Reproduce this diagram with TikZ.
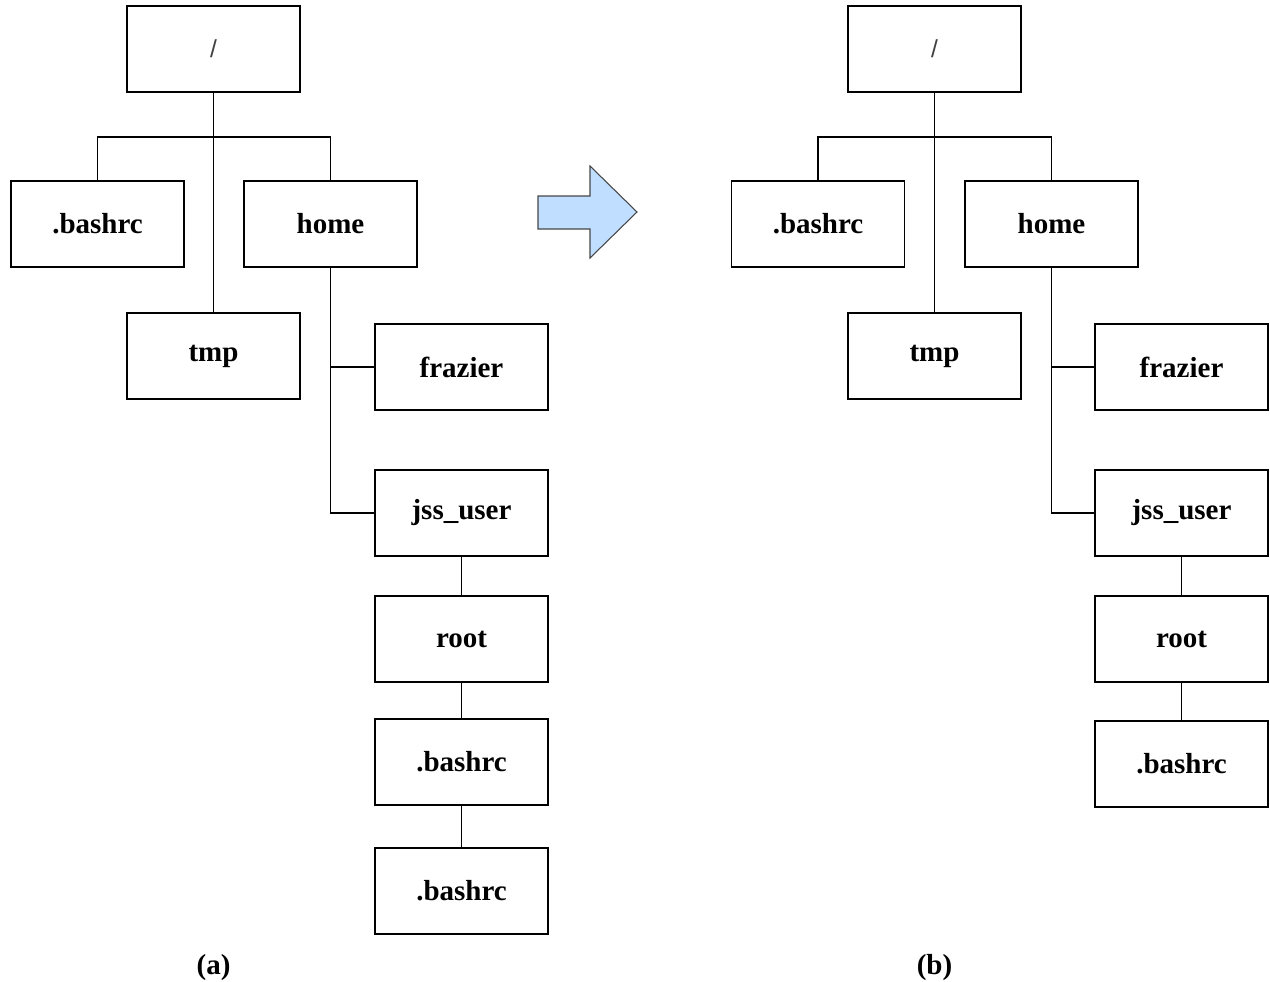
\documentclass[tikz,border=0pt]{standalone}
\usepackage{fontspec}
\setmainfont{Liberation Serif}
\newfontfamily\slashfont{Liberation Sans}
\usetikzlibrary{positioning}
\definecolor{arrowblue}{RGB}{192,222,255}
\definecolor{arrowedge}{RGB}{70,70,70}

\begin{document}
\begin{tikzpicture}[x=0.02cm, y=-0.02cm,
      dirbox/.style={draw, line width=0.9pt, minimum width=3.46cm, minimum height=1.72cm, inner sep=0pt, font=\fontsize{16.5}{18}\selectfont\bfseries},
      link/.style={line width=0.9pt},
      caption/.style={font=\fontsize{16.5}{18}\selectfont\bfseries}
    ]
      \useasboundingbox (0,0) rectangle (1270,981);

      % Tree (a): before
      \node[dirbox, font=\fontsize{14}{16}\selectfont\slashfont\color{black!75}] (slashA) at (213.5, 49) {/};
      \node[dirbox] (bashA) at (97.5, 224) {.bashrc};
      \node[dirbox] (homeA) at (330.5, 224) {home};
      \node[dirbox] (tmpA) at (213.5, 356) {tmp};
      \node[dirbox] (frazierA) at (461.5, 367) {frazier};
      \node[dirbox] (jssA) at (461.5, 513) {jss\_user};
      \node[dirbox] (rootA) at (461.5, 639) {root};
      \node[dirbox] (bashrootA) at (461.5, 762) {.bashrc};
      \node[dirbox] (bashextraA) at (461.5, 891) {.bashrc};
      \node[caption] (capA) at (213.5, 968) {(a)};

      \coordinate (forkA) at (213.5, 137);
      \draw[link] (slashA.south) -- (tmpA.north);
      \draw[link] (bashA.north) |- (forkA) -| (homeA.north);
      \draw[link] (homeA.south) |- (jssA.west);
      \draw[link] (frazierA.west) -- (frazierA.west -| homeA.south);
      \draw[link] (jssA.south) -- (rootA.north);
      \draw[link] (rootA.south) -- (bashrootA.north);
      \draw[link] (bashrootA.south) -- (bashextraA.north);

      % Block arrow
      \draw[fill=arrowblue, draw=arrowedge, line width=0.6pt]
        (538,196) -- (590,196) -- (590,166) -- (637,212) -- (590,258) -- (590,229) -- (538,229) -- cycle;

      % Tree (b): after
      \node[dirbox, font=\fontsize{14}{16}\selectfont\slashfont\color{black!75}] (slashB) at (934.5, 49) {/};
      \node[dirbox] (bashB) at (818, 224) {.bashrc};
      \node[dirbox] (homeB) at (1051.5, 224) {home};
      \node[dirbox] (tmpB) at (934.5, 356) {tmp};
      \node[dirbox] (frazierB) at (1181.5, 367) {frazier};
      \node[dirbox] (jssB) at (1181.5, 513) {jss\_user};
      \node[dirbox] (rootB) at (1181.5, 639) {root};
      \node[dirbox] (bashrootB) at (1181.5, 764) {.bashrc};
      \node[caption] (capB) at (934.5, 968) {(b)};

      \coordinate (forkB) at (934.5, 137);
      \draw[link] (slashB.south) -- (tmpB.north);
      \draw[link] (bashB.north) |- (forkB) -| (homeB.north);
      \draw[link] (homeB.south) |- (jssB.west);
      \draw[link] (frazierB.west) -- (frazierB.west -| homeB.south);
      \draw[link] (jssB.south) -- (rootB.north);
      \draw[link] (rootB.south) -- (bashrootB.north);
    \end{tikzpicture}
\end{document}
